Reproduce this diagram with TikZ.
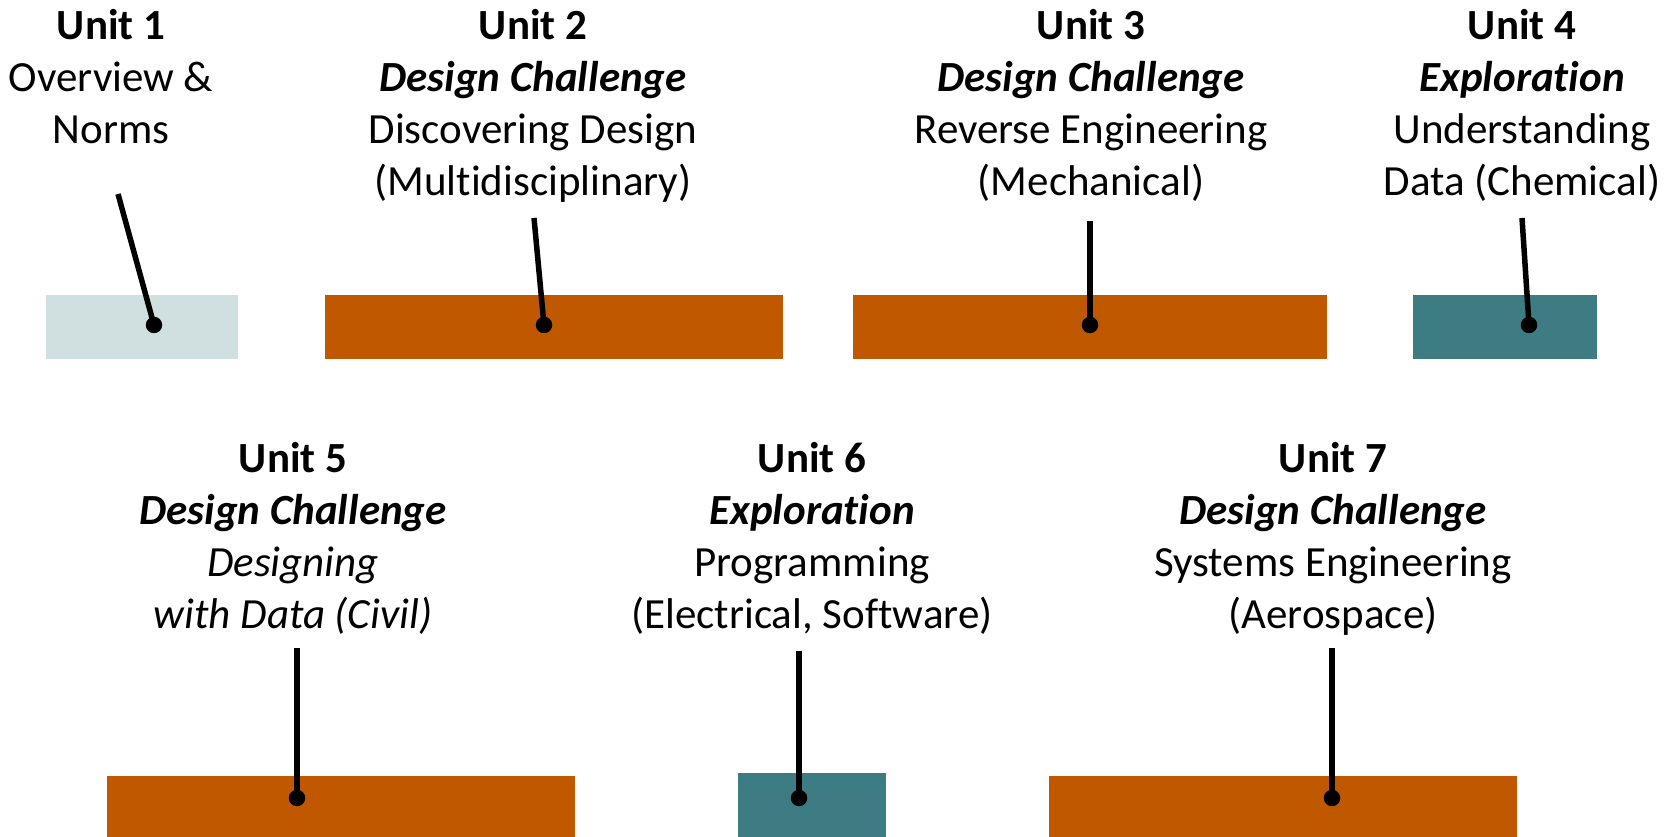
\documentclass[tikz,border=0pt]{standalone}
\usepackage{fontspec}
\setmainfont{Carlito}[Ligatures=NoCommon]
\usepackage{tikz}
\usetikzlibrary{positioning}

\definecolor{chalorange}{RGB}{192,88,0}
\definecolor{explteal}{RGB}{61,124,130}
\definecolor{introgrey}{RGB}{208,223,224}

\begin{document}
\begin{tikzpicture}[x=1pt,y=1pt,
    bar/.style={rectangle, inner sep=0pt, minimum height=64pt},
    dot/.style={circle, fill=black, inner sep=0pt, minimum size=16.5pt},
    stem/.style={line width=5.5pt},
    unit/.style={align=center, anchor=north, inner sep=0pt,
                 font=\fontsize{43}{52}\selectfont}]
          \useasboundingbox (0,0) rectangle (1675,837);

          % first row
          \node[bar, fill=introgrey,  minimum width=192pt] (b1) at (142,510)  {};
          \node[bar, fill=chalorange, minimum width=458pt] (b2) at (554,510)  {};
          \node[bar, fill=chalorange, minimum width=474pt] (b3) at (1090,510) {};
          \node[bar, fill=explteal,   minimum width=184pt] (b4) at (1505,510) {};

          \node[unit] (u1) at (111,828)  {\textbf{Unit 1}\\Overview \&\\Norms};
          \node[unit] (u2) at (533,828)  {\textbf{Unit 2}\\\textbf{\textit{Design Challenge}}\\Discovering Design\\(Multidisciplinary)};
          \node[unit] (u3) at (1091,828) {\textbf{Unit 3}\\\textbf{\textit{Design Challenge}}\\Reverse Engineering\\(Mechanical)};
          \node[unit] (u4) at (1522,828) {\textbf{Unit 4}\\\textbf{\textit{Exploration}}\\Understanding\\Data (Chemical)};

          % second row
          \node[bar, fill=chalorange, minimum width=468pt, minimum height=61pt] (b5) at (341,30.5)  {};
          \node[bar, fill=explteal,   minimum width=148pt]                      (b6) at (812,32)    {};
          \node[bar, fill=chalorange, minimum width=468pt, minimum height=61pt] (b7) at (1283,30.5) {};

          \node[unit] (u5) at (293,395)  {\textbf{Unit 5}\\\textbf{\textit{Design Challenge}}\\\textit{Designing}\\\textit{with Data (Civil)}};
          \node[unit] (u6) at (812,395)  {\textbf{Unit 6}\\\textbf{\textit{Exploration}}\\Programming\\(Electrical, Software)};
          \node[unit] (u7) at (1333,395) {\textbf{Unit 7}\\\textbf{\textit{Design Challenge}}\\Systems Engineering\\(Aerospace)};

          % pins
          \coordinate (t1) at (118,643);
          \coordinate (t2) at (534,619);
          \coordinate (t3) at (1090,616);
          \coordinate (t4) at (1522,619);
          \coordinate (t5) at (297,189);
          \coordinate (t6) at (799,186);
          \coordinate (t7) at (1332,189);

          \node[dot] (d1) at (154,512)  {};
          \node[dot] (d2) at (544,512)  {};
          \node[dot] (d3) at (1090,512) {};
          \node[dot] (d4) at (1529,512) {};
          \node[dot] (d5) at (297,39)   {};
          \node[dot] (d6) at (799,39)   {};
          \node[dot] (d7) at (1332,39)  {};

          \path[stem] (t1) edge (d1.center)
                      (t2) edge (d2.center)
                      (t3) edge (d3.center)
                      (t4) edge (d4.center)
                      (t5) edge (d5.center)
                      (t6) edge (d6.center)
                      (t7) edge (d7.center);
        \end{tikzpicture}
\end{document}
